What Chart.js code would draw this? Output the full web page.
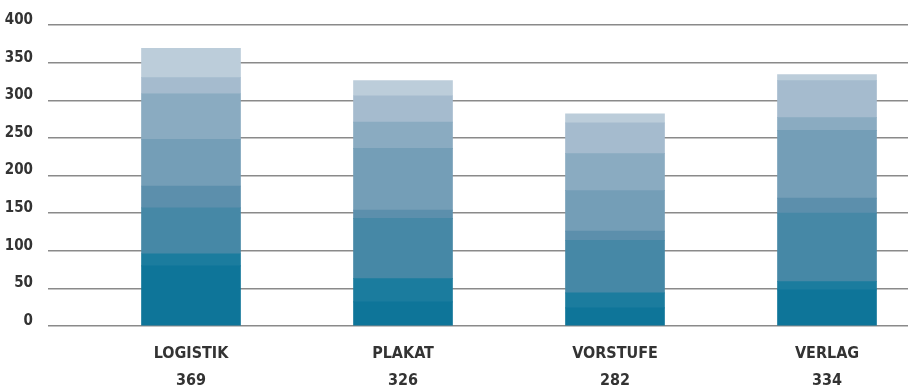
<!DOCTYPE html>
<html>
<head>
<meta charset="utf-8">
<script src="https://cdn.jsdelivr.net/npm/chart.js@4/dist/chart.umd.min.js"></script>
<style>
  html, body { margin: 0; padding: 0; background: #ffffff; overflow: hidden; }
  #wrap { position: relative; width: 933px; height: 389px; }
</style>
</head>
<body>
<div id="wrap"><canvas id="c" width="933" height="389"></canvas></div>
<script>
const categories = ['LOGISTIK', 'PLAKAT', 'VORSTUFE', 'VERLAG'];
const totals = [369, 326, 282, 334];
const seg1 = [80, 32, 24, 48];
const seg2 = [16, 31, 20, 11];
const seg3 = [61, 80, 70, 91];
const seg4 = [29, 11, 12, 20];
const seg5 = [62, 82, 54, 90];
const seg6 = [61, 35, 49, 17];
const seg7 = [21, 35, 41, 49];
const seg8 = [39, 20, 12, 8];
const yTicks = [0, 50, 100, 150, 200, 250, 300, 350, 400];

const segments = [seg1, seg2, seg3, seg4, seg5, seg6, seg7, seg8];
const colors = ['#0e7599', '#1b7c9e', '#4688a6', '#5c8fac', '#749eb7', '#8aabc1', '#a5bbce', '#bccdda'];

const labels = categories.map((c, i) => [c, String(totals[i])]);
const FONT = "'Liberation Sans Narrow', 'DejaVu Sans Condensed', sans-serif";

new Chart(document.getElementById('c'), {
  type: 'bar',
  data: {
    labels: labels,
    datasets: segments.map((d, i) => ({
      label: 'Segment ' + (i + 1),
      data: d,
      backgroundColor: colors[i],
      borderWidth: 0,
      barThickness: 99
    }))
  },
  options: {
    responsive: false,
    animation: false,
    devicePixelRatio: 1,
    layout: { padding: { top: 24, right: 0, bottom: 0, left: 0 } },
    plugins: { legend: { display: false }, tooltip: { enabled: false } },
    scales: {
      x: {
        stacked: true,
        grid: { display: false },
        border: { display: false },
        afterFit: (s) => { s.height = 63; },
        ticks: {
          color: '#333333',
          font: { family: FONT, size: 16, weight: 'bold', lineHeight: '27px' },
          padding: 6,
          maxRotation: 0
        }
      },
      y: {
        stacked: true,
        min: 0,
        max: 400,
        afterBuildTicks: (s) => { s.ticks = yTicks.map(v => ({ value: v })); },
        afterFit: (s) => { s.width = 85; },
        grid: {
          color: '#8a8a8a',
          lineWidth: 1.5,
          drawTicks: true,
          tickLength: 37
        },
        border: { display: false },
        ticks: {
          color: '#333333',
          font: { family: FONT, size: 15, weight: 'bold', lineHeight: '10px' },
          padding: 15,
          callback: (v) => [String(v), '']
        }
      }
    }
  }
});
</script>
</body>
</html>
